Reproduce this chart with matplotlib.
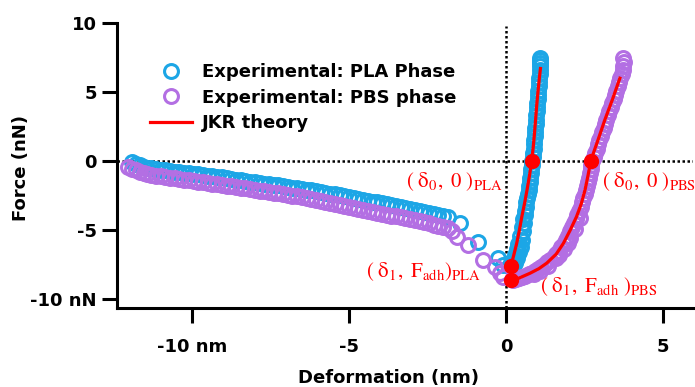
import matplotlib
matplotlib.use('Agg')
import matplotlib.pyplot as plt

plt.rcParams['font.family'] = ['DejaVu Sans']
plt.rcParams['mathtext.fontset'] = 'stix'

# approach (adhesion) part, PLA phase
pla_in_x = [-11.90, -11.78, -11.66, -11.54, -11.42, -11.30, -11.15, -11.00, -10.85, -10.70,
            -10.55, -10.40, -10.25, -10.10, -9.95, -9.80, -9.65, -9.50, -9.35, -9.20,
            -9.05, -8.90, -8.75, -8.60, -8.45, -8.30, -8.15, -8.00, -7.85, -7.70,
            -7.55, -7.40, -7.25, -7.10, -6.95, -6.80, -6.65, -6.50, -6.35, -6.20,
            -6.05, -5.90, -5.75, -5.60, -5.45, -5.30, -5.15, -5.00, -4.85, -4.70,
            -4.55, -4.40, -4.25, -4.10, -3.95, -3.80, -3.65, -3.50, -3.35, -3.20,
            -3.05, -2.90, -2.75, -2.60, -2.45, -2.30, -2.15, -2.00, -1.85,
            -1.45, -0.88, -0.25, -0.10]
pla_in_y = [-0.10, -0.20, -0.30, -0.40, -0.48, -0.53, -0.59, -0.64, -0.68, -0.72,
            -0.76, -0.80, -0.84, -0.88, -0.92, -0.96, -1.00, -1.05, -1.10, -1.14,
            -1.19, -1.24, -1.29, -1.34, -1.39, -1.44, -1.49, -1.54, -1.59, -1.64,
            -1.68, -1.73, -1.77, -1.82, -1.87, -1.92, -1.97, -2.02, -2.07, -2.12,
            -2.18, -2.24, -2.30, -2.36, -2.42, -2.48, -2.54, -2.60, -2.67, -2.74,
            -2.80, -2.87, -2.94, -3.00, -3.07, -3.14, -3.21, -3.28, -3.35, -3.42,
            -3.49, -3.56, -3.63, -3.70, -3.77, -3.84, -3.91, -3.97, -4.04,
            -4.50, -5.85, -7.05, -7.50]

# loading part, PLA phase
pla_up_x = [0.18, 0.28, 0.22, 0.36, 0.30, 0.42, 0.35, 0.47, 0.40, 0.50,
            0.45, 0.54, 0.50, 0.57, 0.55, 0.60, 0.60, 0.64, 0.64, 0.68,
            0.69, 0.72, 0.72, 0.76, 0.77, 0.79, 0.80, 0.82, 0.83, 0.85,
            0.86, 0.88, 0.89, 0.90, 0.92, 0.93, 0.94, 0.95, 0.96, 0.97,
            0.98, 0.99, 1.00, 1.01, 1.02, 1.03, 1.04, 1.05, 1.06, 1.07,
            1.07, 1.08, 1.08, 1.09, 1.09]
pla_up_y = [-7.6, -7.4, -7.2, -7.0, -6.8, -6.6, -6.4, -6.2, -6.0, -5.7,
            -5.4, -5.1, -4.8, -4.5, -4.2, -3.9, -3.6, -3.3, -3.0, -2.7,
            -2.4, -2.1, -1.8, -1.5, -1.2, -0.9, -0.6, -0.3, 0.0, 0.3,
            0.6, 0.9, 1.2, 1.5, 1.8, 2.1, 2.4, 2.7, 3.0, 3.3,
            3.6, 3.9, 4.2, 4.5, 4.8, 5.1, 5.4, 5.7, 6.0, 6.3,
            6.6, 6.9, 7.1, 7.3, 7.45]

# approach part, PBS phase
pbs_in_x = [-12.03, -11.90, -11.78, -11.66, -11.54, -11.42, -11.30, -11.15, -11.00, -10.85,
            -10.70, -10.55, -10.40, -10.25, -10.10, -9.95, -9.80, -9.65, -9.50, -9.35,
            -9.20, -9.05, -8.90, -8.75, -8.60, -8.45, -8.30, -8.15, -8.00, -7.85,
            -7.70, -7.55, -7.40, -7.25, -7.10, -6.95, -6.80, -6.65, -6.50, -6.35,
            -6.20, -6.05, -5.90, -5.75, -5.60, -5.45, -5.30, -5.15, -5.00, -4.85,
            -4.70, -4.55, -4.40, -4.25, -4.10, -3.95, -3.80, -3.65, -3.50, -3.35,
            -3.20, -3.05, -2.90, -2.75, -2.60, -2.45, -2.30, -2.15, -2.00, -1.85,
            -1.72, -1.57, -1.20, -0.72, -0.35, -0.19, -0.09]
pbs_in_y = [-0.43, -0.55, -0.66, -0.76, -0.85, -0.93, -0.99, -1.05, -1.10, -1.15,
            -1.20, -1.25, -1.30, -1.35, -1.40, -1.45, -1.50, -1.55, -1.60, -1.64,
            -1.69, -1.74, -1.79, -1.84, -1.89, -1.94, -1.99, -2.04, -2.09, -2.14,
            -2.19, -2.24, -2.30, -2.35, -2.40, -2.46, -2.51, -2.57, -2.63, -2.69,
            -2.76, -2.83, -2.90, -2.97, -3.04, -3.11, -3.18, -3.25, -3.32, -3.39,
            -3.46, -3.53, -3.60, -3.67, -3.74, -3.81, -3.88, -3.95, -4.02, -4.09,
            -4.16, -4.23, -4.30, -4.37, -4.44, -4.52, -4.60, -4.68, -4.77, -4.88,
            -5.05, -5.48, -6.09, -7.17, -7.66, -8.14, -8.43]

# loading part, PBS phase
pbs_up_x = [0.22, 0.32, 0.42, 0.52, 0.62, 0.72, 0.82, 0.92, 1.02, 1.12,
            1.22, 1.32, 1.42, 1.52, 1.60, 1.68, 1.76, 1.84, 1.91, 1.98,
            2.05, 2.11, 2.17, 2.23, 2.28, 2.33, 2.38, 2.43, 2.47, 2.51,
            2.54, 2.58, 2.61, 2.64, 2.67, 2.70, 2.72, 2.75, 2.80, 2.84,
            2.89, 2.93, 2.98, 3.02, 3.07, 3.11, 3.16, 3.20, 3.25, 3.29,
            3.34, 3.38, 3.43, 3.47, 3.52, 3.56, 3.61, 3.65, 3.69, 3.72,
            3.74, 3.75, 3.74,
            0.90, 1.10, 1.35, 1.60, 1.70, 1.85, 1.98, 2.05, 2.20, 2.35]
pbs_up_y = [-8.62, -8.58, -8.50, -8.42, -8.32, -8.20, -8.08, -7.96, -7.82, -7.68,
            -7.52, -7.35, -7.15, -6.95, -6.72, -6.50, -6.25, -5.98, -5.70, -5.40,
            -5.10, -4.80, -4.50, -4.20, -3.90, -3.60, -3.30, -3.00, -2.70, -2.40,
            -2.10, -1.80, -1.50, -1.20, -0.90, -0.60, -0.30, 0.00, 0.30, 0.60,
            0.90, 1.20, 1.50, 1.80, 2.10, 2.40, 2.70, 3.00, 3.30, 3.60,
            3.90, 4.20, 4.50, 4.80, 5.10, 5.40, 5.70, 6.00, 6.30, 6.60,
            6.90, 7.20, 7.45,
            -8.20, -7.95, -7.60, -7.05, -6.80, -6.35, -5.95, -5.55, -4.95, -4.15]

# JKR fits
jkr_pla_x = [0.15, 0.23, 0.34, 0.43, 0.51, 0.60, 0.68, 0.755, 0.82, 0.87, 0.91, 0.945, 0.98, 1.02, 1.065, 1.10]
jkr_pla_y = [-7.62, -7.0, -6.0, -5.0, -4.0, -3.0, -2.0, -1.0, 0.0, 1.0, 2.0, 3.0, 4.0, 5.0, 6.0, 6.7]
jkr_pbs_x = [0.18, 0.40, 0.76, 1.05, 1.30, 1.60, 1.83, 2.05, 2.25, 2.40, 2.52, 2.62, 2.70, 2.93, 3.15, 3.40, 3.63]
jkr_pbs_y = [-8.62, -8.50, -8.14, -7.80, -7.40, -6.75, -5.97, -5.00, -4.03, -3.10, -2.10, -1.0, 0.0, 1.50, 2.97, 4.50, 6.00]

# key points (delta0, 0) and (delta1, F_adh)
key_x = [0.82, 2.70, 0.15, 0.15]
key_y = [0.0, 0.0, -7.62, -8.62]

blue = '#1ca6e6'
purple = '#b36fe3'
red = '#ff0000'

fig = plt.figure(figsize=(6.95, 3.87), dpi=100)
ax = fig.add_axes([117 / 695, 79 / 387, 576 / 695, 285 / 387])

ax.axhline(0, color='black', ls=(0, (1, 1)), lw=1.8, zorder=1)
ax.axvline(0, ymax=0.99, color='black', ls=(0, (1, 1)), lw=1.8, zorder=1)

ax.plot(pla_in_x + pla_up_x, pla_in_y + pla_up_y, 'o', mfc='none', mec=blue,
        ms=10, mew=2.2, zorder=2, label='Experimental: PLA Phase')
ax.plot(pbs_in_x + pbs_up_x, pbs_in_y + pbs_up_y, 'o', mfc='none', mec=purple,
        ms=10, mew=2.2, zorder=3, label='Experimental: PBS phase')
ax.plot(jkr_pla_x, jkr_pla_y, color=red, lw=2.3, zorder=4, label='JKR theory')
ax.plot(jkr_pbs_x, jkr_pbs_y, color=red, lw=2.3, zorder=4)
ax.plot(key_x, key_y, 'o', color=red, ms=10, zorder=5)

ax.set_xlim(-12.39, 5.96)
ax.set_ylim(-10.65, 10)
for s in ['top', 'right']:
    ax.spines[s].set_visible(False)
for s in ['left', 'bottom']:
    ax.spines[s].set_linewidth(2.2)

ax.set_xticks([-10, -5, 0, 5])
ax.set_xticklabels(['-10 nm', '-5', '0', '5'], fontweight='bold')
ax.set_yticks([-10, -5, 0, 5, 10])
ax.set_yticklabels(['-10 nN', '-5', '0', '5', '10'], fontweight='bold')
ax.tick_params(axis='both', direction='out', length=10.5, width=2.2, labelsize=13)
ax.tick_params(axis='x', pad=11)
ax.tick_params(axis='y', pad=4)

ax.set_xlabel('Deformation (nm)', fontsize=13, fontweight='bold')
ax.set_ylabel('Force (nN)', fontsize=13, fontweight='bold')
ax.xaxis.set_label_coords(0.472, -0.215)
ax.yaxis.set_label_coords(-0.151, 0.49)

ax.legend(loc='upper left', bbox_to_anchor=(150 / 695, 1 - 63 / 387), bbox_transform=fig.transFigure,
          frameon=False, prop={'size': 13, 'weight': 'bold'}, handlelength=2.3, handletextpad=0.6,
          labelspacing=0.42, borderpad=0, borderaxespad=0)

tkw = dict(color=red, fontsize=15, va='center', fontweight='normal')
ax.text(-0.1, -1.5, r'$\mathrm{(\ δ_0,\ 0\ )_{PLA}}$', ha='right', **tkw)
ax.text(3.05, -1.5, r'$\mathrm{(\ δ_0,\ 0\ )_{PBS}}$', ha='left', **tkw)
ax.text(-0.8, -8.0, r'$\mathrm{(\ δ_1,\ F_{adh})_{PLA}}$', ha='right', **tkw)
ax.text(1.08, -9.1, r'$\mathrm{(\ δ_1,\ F_{adh}\ )_{PBS}}$', ha='left', **tkw)

fig.savefig('out.png', dpi=100)
